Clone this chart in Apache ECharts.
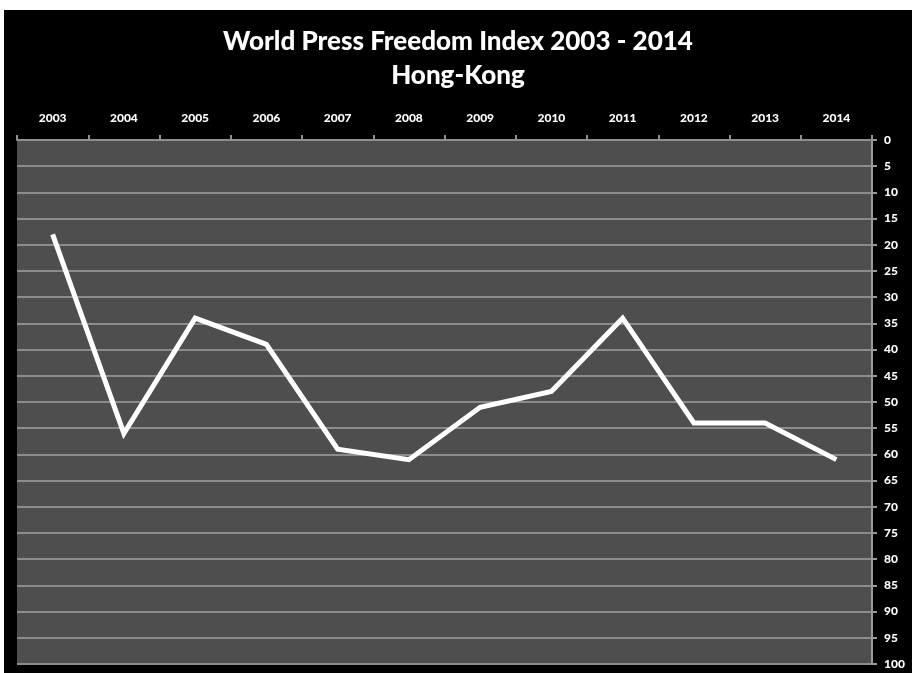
<!DOCTYPE html>
<html>
<head>
<meta charset="utf-8">
<script src="https://cdn.jsdelivr.net/npm/echarts@6/dist/echarts.min.js"></script>
<style>
html,body{margin:0;padding:0;background:#ffffff;width:912px;height:673px;overflow:hidden;}
#chart{position:absolute;left:4px;top:10px;width:908px;height:663px;}
</style>
</head>
<body>
<div id="chart"></div>
<script>
const titleLine1 = 'World Press Freedom Index 2003 - 2014';
const titleLine2 = 'Hong-Kong';
const years = ['2003','2004','2005','2006','2007','2008','2009','2010','2011','2012','2013','2014'];
const rankValues = [18, 56, 34, 39, 59, 61, 51, 48, 34, 54, 54, 61];
const yMin = 0, yMax = 100, yStep = 5;

const chart = echarts.init(document.getElementById('chart'), null, {renderer:'canvas'});
const fontFam = 'Lato, "Open Sans", "DejaVu Sans", sans-serif';
chart.setOption({
  backgroundColor: '#000000',
  animation: false,
  title: {
    text: titleLine1 + '\n' + titleLine2,
    left: 'center',
    top: 10,
    textStyle: {color:'#ffffff', fontFamily: fontFam, fontWeight:900, fontSize:26, lineHeight:34}
  },
  grid: {
    left: 13, right: 40, top: 130, bottom: 9,
    show: true, backgroundColor: '#4e4e4e', borderWidth: 0
  },
  xAxis: {
    type: 'category',
    position: 'top',
    data: years,
    boundaryGap: true,
    axisLine: {show:true, lineStyle:{color:'#8f8f8f', width:2}},
    axisTick: {show:true, inside:false, length:5, lineStyle:{color:'#8f8f8f', width:2}},
    axisLabel: {color:'#ffffff', fontFamily: fontFam, fontWeight:900, fontSize:12, margin:16},
    splitLine: {show:false}
  },
  yAxis: {
    type: 'value',
    position: 'right',
    inverse: true,
    min: yMin, max: yMax, interval: yStep,
    axisLine: {show:true, lineStyle:{color:'#9a9a9a', width:2}},
    axisTick: {show:true, length:5, lineStyle:{color:'#9a9a9a', width:2}},
    axisLabel: {color:'#ffffff', fontFamily: fontFam, fontWeight:900, fontSize:12, margin:12, align:'left'},
    splitLine: {show:true, lineStyle:{color:'#8c8c8c', width:2}}
  },
  series: [{
    type: 'line',
    data: rankValues,
    symbol: 'none',
    lineStyle: {color:'#ffffff', width:5, join:'miter'},
    z: 5
  }]
});
</script>
</body>
</html>
